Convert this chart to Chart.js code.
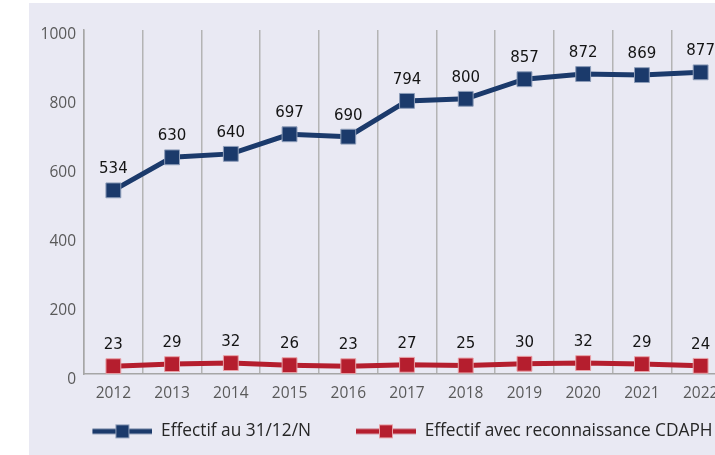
<!DOCTYPE html>
<html>
<head>
<meta charset="utf-8">
<script src="https://cdn.jsdelivr.net/npm/chart.js@4.4.0/dist/chart.umd.min.js"></script>
<style>
  html, body { margin: 0; padding: 0; background: #fff; overflow: hidden; width: 715px; height: 455px; }
  #panel { position: absolute; left: 29px; top: 3px; width: 776px; height: 452px; background: #e9e9f3; }
</style>
</head>
<body>
<div id="panel"><canvas id="chart" width="776" height="452"></canvas></div>
<script>
const years = ['2012', '2013', '2014', '2015', '2016', '2017', '2018', '2019', '2020', '2021', '2022'];
const effectif = [534, 630, 640, 697, 690, 794, 800, 857, 872, 869, 877];
const effectifCdaph = [23, 29, 32, 26, 23, 27, 25, 30, 32, 29, 24];
const yTicks = [0, 200, 400, 600, 800, 1000];

const BLUE = '#1b3a6b';
const RED = '#b51e2e';

// legend swatch: transparent gap on the left, then line with a square marker
const GAP = 35;
function swatch(color, border) {
  const c = document.createElement('canvas');
  c.width = 60 + GAP; c.height = 16;
  const g = c.getContext('2d');
  g.strokeStyle = color;
  g.lineWidth = 5;
  g.beginPath(); g.moveTo(GAP, 8); g.lineTo(GAP + 60, 8); g.stroke();
  g.fillStyle = color;
  g.fillRect(GAP + 23, 1, 14, 14);
  g.strokeStyle = border;
  g.lineWidth = 1;
  g.strokeRect(GAP + 23.5, 1.5, 13, 13);
  return c;
}

const valueLabels = {
  id: 'valueLabels',
  afterDatasetsDraw(chart) {
    const ctx = chart.ctx;
    ctx.save();
    ctx.font = '15px "DejaVu Sans"';
    ctx.fillStyle = '#141414';
    ctx.textAlign = 'center';
    ctx.textBaseline = 'middle';
    chart.data.datasets.forEach((ds, i) => {
      chart.getDatasetMeta(i).data.forEach((pt, j) => {
        ctx.fillText(ds.data[j], pt.x, pt.y - 21);
      });
    });
    ctx.restore();
  }
};

const tickFont = { family: 'Open Sans', size: 15.5 };

new Chart(document.getElementById('chart'), {
  type: 'line',
  data: {
    labels: years,
    datasets: [
      {
        label: 'Effectif au 31/12/N',
        data: effectif,
        borderColor: BLUE,
        backgroundColor: BLUE,
        borderWidth: 5,
        pointStyle: 'rect',
        pointRadius: 10.5,
        pointBorderColor: '#8c9cb8',
        pointBorderWidth: 1,
        legendSwatch: swatch(BLUE, '#8c9cb8')
      },
      {
        label: 'Effectif avec reconnaissance CDAPH',
        data: effectifCdaph,
        borderColor: RED,
        backgroundColor: RED,
        borderWidth: 5,
        pointStyle: 'rect',
        pointRadius: 10.5,
        pointBorderColor: '#e8a0a6',
        pointBorderWidth: 1,
        legendSwatch: swatch(RED, '#e8a0a6')
      }
    ]
  },
  options: {
    responsive: false,
    animation: false,
    layout: { padding: { top: 27, right: 75, bottom: 5, left: 11 } },
    plugins: {
      tooltip: { enabled: false },
      legend: {
        position: 'bottom',
        labels: {
          usePointStyle: true,
          pointStyleWidth: 60 + GAP,
          padding: 10,
          color: '#262626',
          font: { family: 'Open Sans', size: 17.3 },
          generateLabels(chart) {
            return chart.data.datasets.map((ds, i) => ({
              text: ds.label,
              pointStyle: ds.legendSwatch,
              fontColor: '#262626',
              datasetIndex: i,
              lineWidth: 0
            }));
          }
        }
      }
    },
    scales: {
      x: {
        offset: true,
        grid: { offset: true, color: '#b4b4b4', lineWidth: 1.5, drawTicks: false },
        border: { color: '#a6a6a6', width: 1.5 },
        ticks: { color: '#595959', font: tickFont, padding: 10 }
      },
      y: {
        min: 0,
        max: 1000,
        afterFit(scale) { scale.width = 44; },
        afterBuildTicks(scale) { scale.ticks = yTicks.map(v => ({ value: v })); },
        grid: { display: false, drawTicks: false },
        border: { color: '#a6a6a6', width: 1.5 },
        ticks: { color: '#595959', font: tickFont, padding: 8, labelOffset: 5, callback: v => String(v) }
      }
    }
  },
  plugins: [valueLabels]
});
</script>
</body>
</html>
